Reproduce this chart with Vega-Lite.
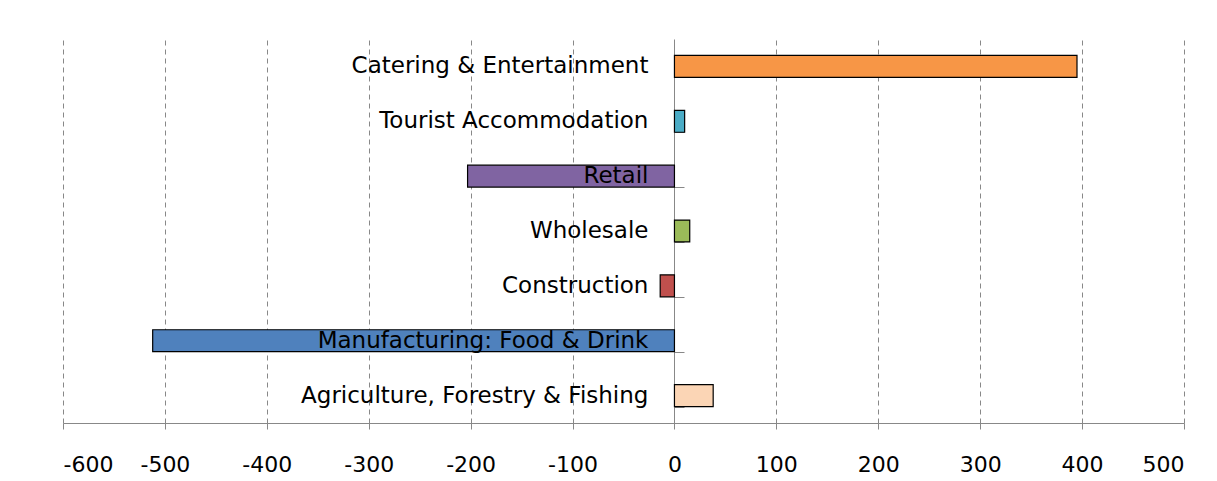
{
  "$schema": "https://vega.github.io/schema/vega-lite/v6.json",
  "width": 1121,
  "height": 384,
  "autosize": {"type": "none"},
  "padding": {"left": 63, "top": 39, "right": 33, "bottom": 58},
  "background": "white",
  "config": {"view": {"stroke": null}, "font": "DejaVu Sans"},
  "data": {"values": [
    {"sector": "Catering & Entertainment", "value": 395, "color": "#F79646"},
    {"sector": "Tourist Accommodation", "value": 10, "color": "#4BACC6"},
    {"sector": "Retail", "value": -203, "color": "#8064A2"},
    {"sector": "Wholesale", "value": 15, "color": "#9BBB59"},
    {"sector": "Construction", "value": -14, "color": "#C0504D"},
    {"sector": "Manufacturing: Food & Drink", "value": -512, "color": "#4F81BD"},
    {"sector": "Agriculture, Forestry & Fishing", "value": 38, "color": "#FBD5B5"}
  ]},
  "encoding": {
    "y": {"field": "sector", "type": "nominal", "sort": null,
          "scale": {"paddingInner": 0.6, "paddingOuter": 0.3},
          "axis": {"title": null, "labels": false, "offset": -611, "tickBand": "extent",
                   "tickSize": -10, "tickColor": "#888", "domainColor": "#888"}}
  },
  "layer": [
    {
      "mark": {"type": "rule", "color": "#888"},
      "encoding": {"x": {"datum": 0}}
    },
    {
      "mark": {"type": "bar", "stroke": "black", "strokeWidth": 1.2},
      "encoding": {
        "x": {"field": "value", "type": "quantitative",
              "scale": {"domain": [-600, 500], "nice": false},
              "axis": {"values": [-600,-500,-400,-300,-200,-100,0,100,200,300,400,500],
                       "title": null, "labelFontSize": 22, "labelColor": "black",
                       "labelExpr": "replace(format(datum.value, 'd'), '−', '-')",
                       "labelPadding": 25, "domainColor": "#888", "tickColor": "#888", "tickSize": 6,
                       "grid": true, "gridDash": [5, 4], "gridColor": "#888"}},
        "color": {"field": "color", "type": "nominal", "scale": null}
      }
    },
    {
      "mark": {"type": "text", "align": "right", "baseline": "middle", "dx": -26, "fontSize": 23, "color": "black"},
      "encoding": {"x": {"datum": 0}, "text": {"field": "sector"}}
    }
  ]
}
